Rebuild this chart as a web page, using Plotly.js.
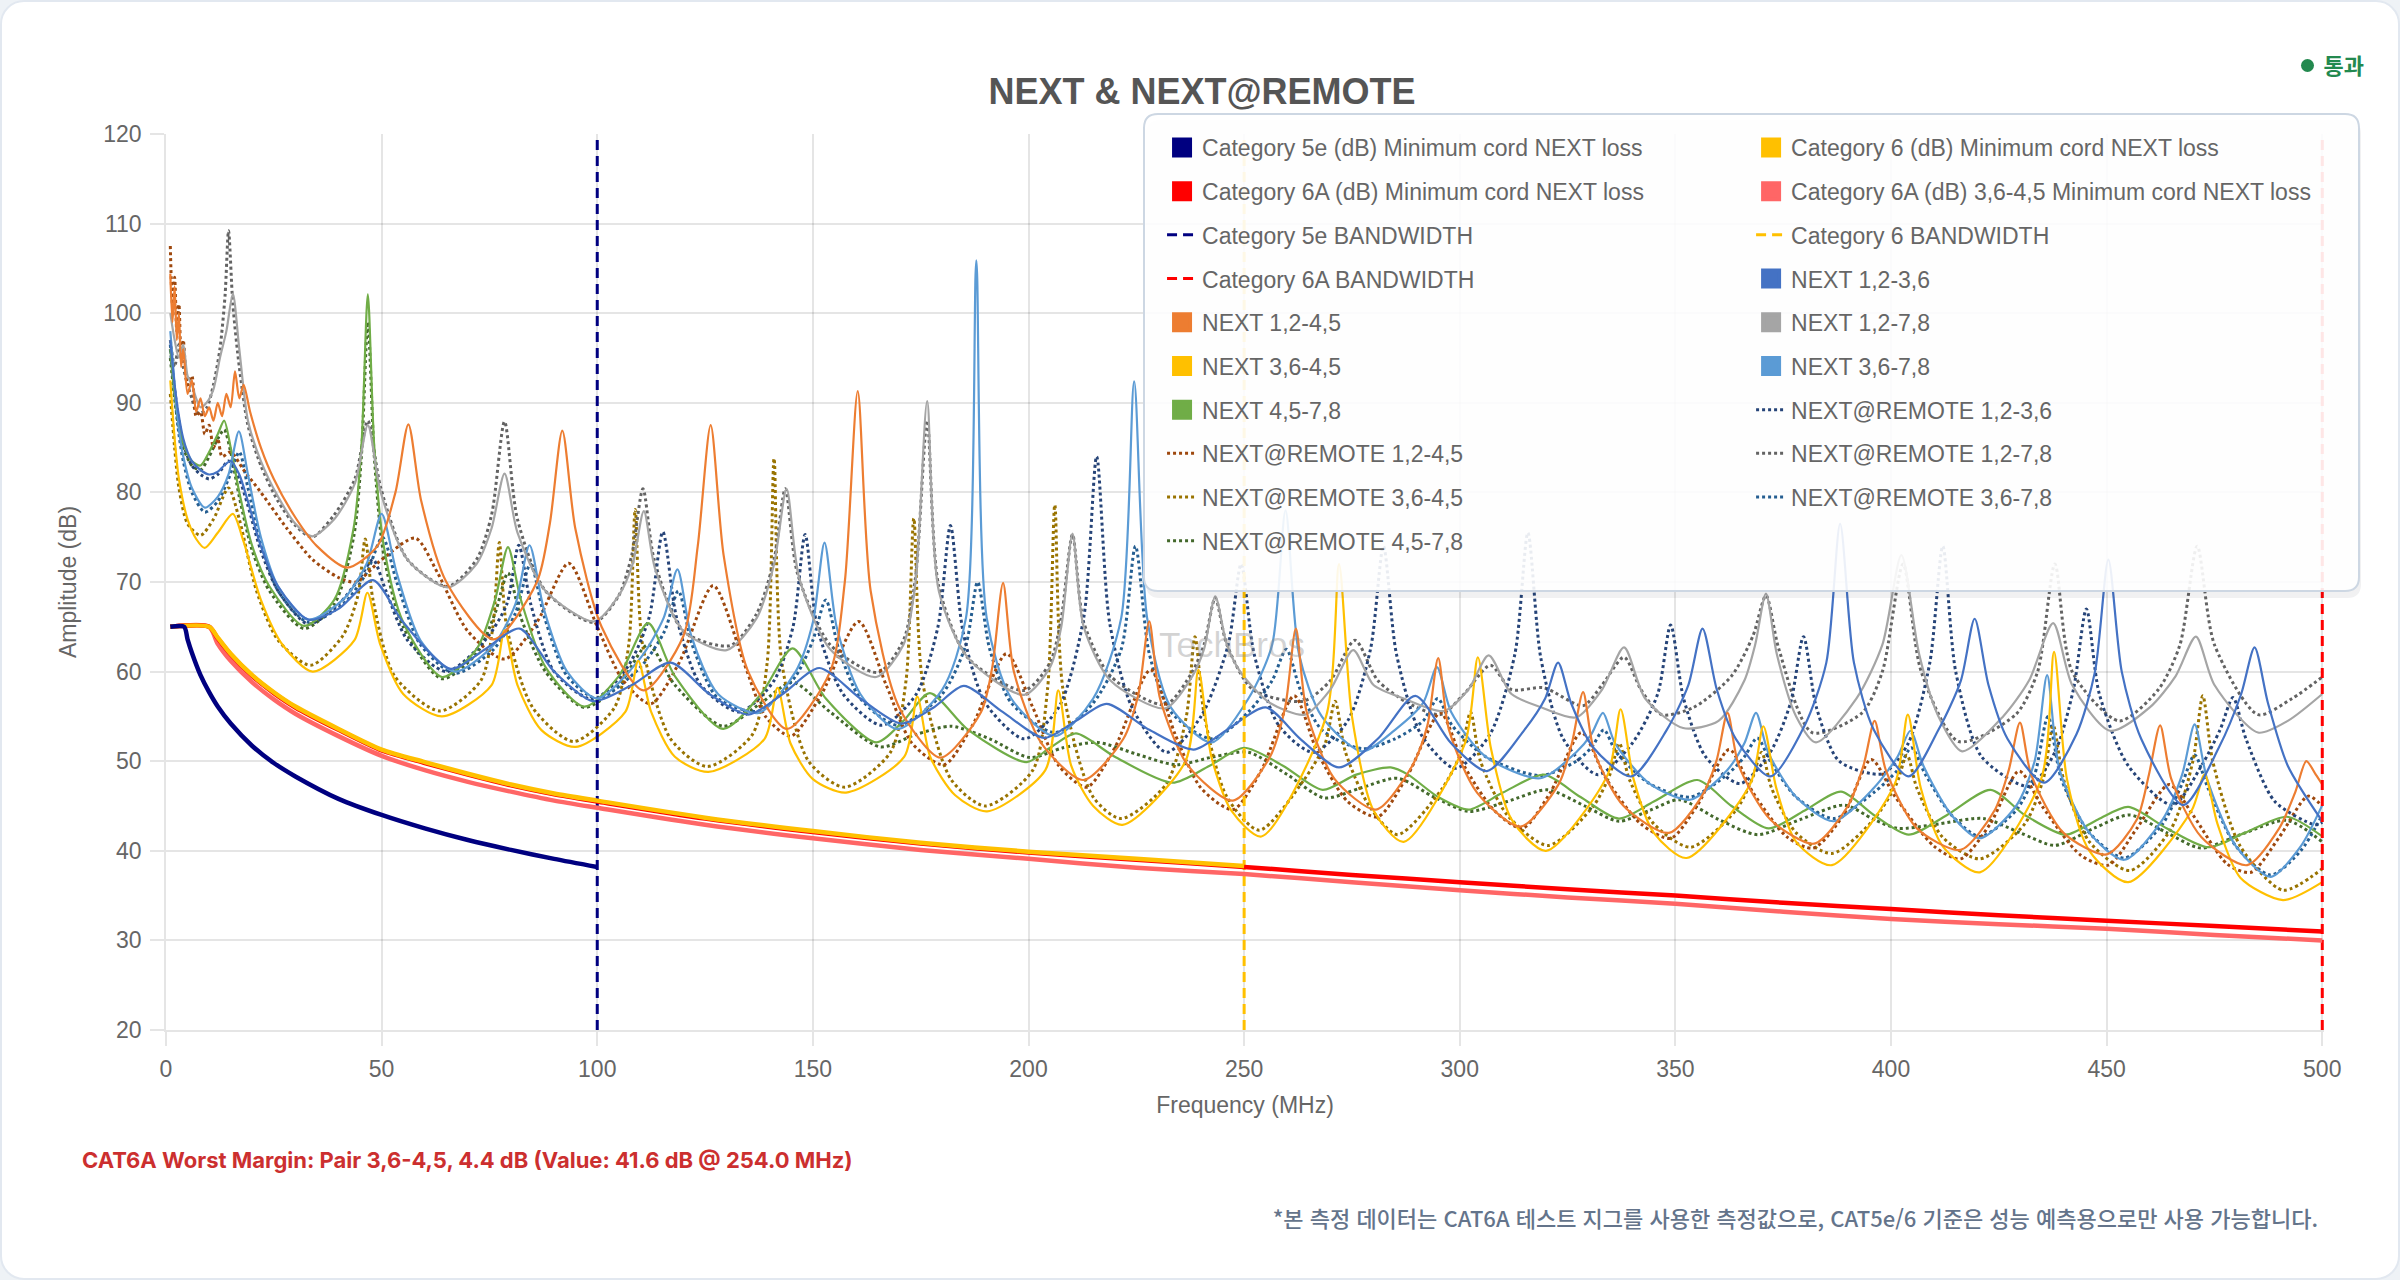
<!DOCTYPE html>
<html lang="ko">
<head>
<meta charset="utf-8">
<title>NEXT &amp; NEXT@REMOTE</title>
<script src="https://cdn.plot.ly/plotly-3.0.1.min.js"></script>
<style>
  html, body { margin: 0; padding: 0; background: #eef2f6; }
  .card {
    position: absolute; left: 0; top: 0; width: 2400px; height: 1280px;
    box-sizing: border-box; background: #fff;
    border: 2px solid #e2e8f0; border-radius: 24px; overflow: hidden;
  }
  #chart { position: absolute; left: 0; top: 0; width: 2400px; height: 1280px; }
  .status {
    position: absolute; right: 34px; top: 46px;
    font: 700 22px Inter, "Noto Sans CJK KR", sans-serif; color: #23894f;
  }
  .status .dot {
    display: inline-block; width: 13px; height: 13px; border-radius: 50%;
    background: #23894f; margin-right: 10px; vertical-align: 2px;
  }
  .margin-note {
    position: absolute; left: 80px; top: 1145px;
    font: 700 22px Inter, "Noto Sans CJK KR", sans-serif; color: #cc2f2f;
  }
  .footnote {
    position: absolute; right: 80px; top: 1199px;
    font: 500 22px "Noto Sans CJK KR", Inter, sans-serif; color: #64748b;
  }
</style>
</head>
<body>
<div class="card">
  <div id="chart"></div>
  <div class="status"><span class="dot"></span>통과</div>
  <div class="margin-note">CAT6A Worst Margin: Pair 3,6-4,5, 4.4 dB (Value: 41.6 dB @ 254.0 MHz)</div>
  <div class="footnote">*본 측정 데이터는 CAT6A 테스트 지그를 사용한 측정값으로, CAT5e/6 기준은 성능 예측용으로만 사용 가능합니다.</div>
</div>
<script>
/* ── Axis ranges / ticks ─────────────────────────────────── */
const FREQ_RANGE = [0, 500.4];
const AMP_RANGE  = [20, 120];
const BANDWIDTHS = [100, 250, 500];   // MHz : Cat5e, Cat6, Cat6A

/* ── Limit lines [MHz, dB] ───────────────────────────────── */
const cat5eLimit = [[1,65],[4.2,65],[5,63.6],[6,62.1],[8,59.6],[10,57.7],[12,56.1],[15,54.2],[20,51.7],[25,49.8],
  [30,48.3],[40,45.8],[50,44.0],[60,42.5],[70,41.2],[80,40.1],[90,39.1],[100,38.2]];
const cat6Limit = [[1,65],[10,65],[12,63.8],[15,62.0],[20,59.6],[25,57.7],[30,56.1],[40,53.6],[50,51.3],[60,49.9],
  [70,48.6],[80,47.4],[90,46.4],[100,45.6],[125,43.7],[150,42.2],[175,40.9],[200,39.9],[225,39.1],[250,38.3]];
const cat6aLimit = [[1,65],[10,65],[12,63.7],[15,61.9],[20,59.5],[25,57.6],[30,56.0],[40,53.5],[50,51.2],[60,49.8],
  [70,48.5],[80,47.3],[90,46.3],[100,45.5],[125,43.6],[150,42.1],[175,40.8],[200,39.8],[225,39.0],[250,38.2],
  [275,37.3],[300,36.5],[325,35.7],[350,35.0],[375,34.2],[400,33.5],[425,32.8],[450,32.2],[475,31.6],[500,31.0]];
const cat6a3645Limit = [[1,65],[10,65],[12,63.1],[15,61.2],[20,58.8],[25,56.9],[30,55.3],[40,52.8],[50,50.6],[60,49.0],
  [70,47.7],[80,46.6],[90,45.6],[100,44.8],[125,42.9],[150,41.4],[175,40.1],[200,39.1],[225,38.1],[250,37.4],
  [275,36.5],[300,35.6],[325,34.8],[350,34.1],[375,33.2],[400,32.4],[425,31.8],[450,31.3],[475,30.6],[500,30.0]];

/* ── Measured NEXT [MHz, dB] ─────────────────────────────── */
const next12_36 = [[1,97],[2,92],[3,88.5],[4,86],[5,84.5],[6,83.5],[8,82.5],[10,82],[12,82.3],[13.5,83],[15,83.5],
  [17,82],[19,79],[22,74],[26,69.5],[33,65.8],[40,67],[48,70.2],[55,65.5],[66,60.3],[74,62.5],[82,64.8],[90,60],
  [99,56.7],[108,58.5],[117,61],[126,57.5],[135,55.2],[143,57.5],[151.5,60.4],[161,57],[170.5,54.2],[178,56],
  [185,58.4],[194,55.5],[203.6,52.6],[211,54.5],[218.1,56.4],[228,53.5],[238.3,51.3],[246,53.5],[255,56],[263,52.5],
  [272,49.3],[281,52.5],[289.7,57.3],[298,52],[306.3,48.9],[315,53.5],[319.8,57],[322.8,61],[325.8,56.5],[331,51.5],
  [339.8,48.3],[348,53.5],[353,58.5],[356.3,64.8],[359.6,58],[364,52.5],[372,48.3],[380,54],[385,61],[388.2,76.5],
  [391.4,61],[396,53.5],[404.1,48.3],[411,53.5],[416.2,59],[419.4,65.9],[422.6,58.5],[427,52.5],[435.5,47.6],[443,53],
  [447.3,60],[450.4,72.5],[453.5,60],[458,52.5],[467.8,45.1],[476,51.5],[481.2,57.5],[484.3,62.7],[487.4,56.5],
  [492,49.5],[500,43.3]];
const next12_45 = [[1,104.4],[1.5,99],[2,103],[2.5,97],[3,100],[3.5,94],[4,96],[5,91],[6,92.5],[7,89],[8,90.5],
  [9,88.5],[10,89.5],[11,88],[12,90],[13,88.5],[14,91],[15,89.5],[16,93.5],[17,90.5],[18,92],[19.5,89],[22,85],
  [25,81.5],[30,77.2],[35,74],[42,71.6],[49,74],[53.2,80],[56.2,87.6],[59.2,79],[65,70],[76,63.6],[86,70],[89,76.5],
  [91.9,86.9],[94.9,76],[101,65],[110.7,57.9],[120,64],[123.3,74],[126.3,87.5],[129.3,73],[135,60],[144,53.6],
  [154,60],[157.4,70],[160.4,91.3],[163.4,69],[170,56],[179.6,50.4],[189,55.5],[191.6,60.5],[194.1,69.9],
  [196.6,60],[203,52],[212.7,47.9],[222,52.5],[225.5,57.5],[228,65.6],[230.5,57],[237,49.5],[247.4,45.6],[256,50.5],
  [259.5,56],[262,64.8],[264.5,55.5],[271,48],[280.6,44.6],[289,49.5],[292.5,54],[295,61.5],[297.5,53.5],[304,46.5],
  [314.1,42.7],[323,47.5],[326,52],[328.6,57.7],[331.2,51],[338,45],[348.5,42.0],[356,46],[359.5,50],[362.1,55.4],
  [364.7,49.5],[372,43.5],[382.2,40.8],[390,45],[393.6,49.5],[396.2,54.5],[398.8,49],[406,42.5],[416.1,40.1],
  [424,44.5],[427.3,49],[429.9,54.3],[432.5,48.5],[440,42],[450,39.6],[457,43.5],[459.8,48.5],[462.4,54],[465,48],
  [472,41.5],[482.6,38.4],[490,42.5],[493.7,46.5],[496.3,50],[498.5,48.5],[500,47.4]];
const next12_78 = [[1,100],[2,97],[3,95],[4,96.5],[5,93],[6,92],[7,90.5],[8,89.5],[9.4,90],[11,91.5],[12.5,95],
  [14,98],[15.5,102.2],[17,96],[19,88],[22,83.5],[26,79.5],[30,76.5],[33.9,75.1],[39,77],[43.8,81],[46.8,87.5],
  [49.8,80],[56,72.5],[65.3,69.4],[72,72],[75.5,76],[78.5,82.1],[81.5,75.5],[88,69],[99.3,65.6],[105,68.5],
  [108.2,72],[110.8,77.9],[113.4,71.5],[120,64.5],[130,62.4],[137,66],[141,72],[143.9,80.4],[146.8,70.5],[154,62.5],
  [164.7,59.4],[171,63],[173.8,70],[176.5,90.2],[179.2,69],[186,61.5],[199,57.4],[205,60.5],[207.6,65],[210.2,75.4],
  [212.8,65],[219,59],[231.7,55.9],[238,59.5],[240.7,62.5],[243.3,68.4],[246,63],[249.2,59.9],[256,56.5],
  [264.1,55.2],[270,58],[275.3,62.4],[280,58.5],[287,57],[296.3,55.6],[302,58],[306.7,61.8],[312,57.5],[319,56],
  [327,54.9],[333,58],[338.1,62.7],[343,57],[351.8,53.7],[360,54.5],[366,59],[368.5,63],[371,68.7],[373.5,62],
  [378,55],[382.6,52.1],[392,57],[398,63],[402.4,73],[406.5,62],[411,55],[416.5,51.1],[426,55],[432,59],[437.6,65.4],
  [442,58.5],[450.8,53.4],[460,56],[466,59.5],[470.7,63.9],[475,58.5],[485.1,53.2],[492,54.5],[500,57.5]];
const next36_45 = [[1,92.5],[2,86],[3,81.5],[5,77],[7,74.8],[9,73.8],[12,75.5],[15.5,77.6],[18,74.5],[22,68],
  [27,63],[34,60.0],[43.7,63.5],[46.7,68.8],[49.7,63],[55,57.5],[64,55.0],[75.5,58.5],[78.5,64.6],[81.5,58.5],
  [87,53.5],[95,51.6],[106.5,55.5],[109.5,61.2],[112.5,55.5],[118,50.5],[125.8,48.8],[138.8,52.5],[141.8,58.2],
  [144.8,52],[150,48],[157.7,46.5],[171.2,50.5],[174.2,57.2],[177.2,50.5],[183,46.2],[190.4,44.4],[203.9,49],
  [206.9,57.9],[209.9,49.5],[215,45],[221.8,42.9],[236.4,50],[239.4,60.2],[242.4,50.5],[247,44.5],[254,41.6],
  [269,55],[272,72],[275,55],[280,44.5],[287,41.0],[301.2,52],[304.2,61.6],[307.2,51.5],[312,43.5],[320,40.0],
  [334.3,48.5],[337.3,55.8],[340.3,48],[345,42],[352.6,39.2],[367.4,47.5],[370.4,53.9],[373.4,47],[378,41],
  [386.3,38.4],[400.9,47.5],[403.9,55.2],[406.9,47],[412,40.5],[420.6,37.6],[434.8,48],[437.8,62.2],[440.8,48],
  [446,40],[455,36.5],[469.7,44.5],[472.7,48.5],[475.7,43],[481,37],[490.9,34.5],[500,36.5]];
const next36_78 = [[1,98],[2,92],[3,87],[4,84],[6,80.5],[9,78.3],[12,79.5],[14.5,82],[16.9,86.8],[19,82],[22,75],
  [26,69.5],[33,65.8],[41,68],[46.5,72],[50,77.6],[53.5,71],[59,63.5],[67,60],[76,63],[81,67.5],[84.3,74.1],
  [87.6,67],[93,60],[100,57],[110,61.5],[115.4,66],[118.6,71.4],[121.8,64],[128,57.5],[137.4,55.4],[146,60],
  [150,65.5],[152.7,74.4],[155.5,65],[161,57.5],[169.7,53.6],[180,58],[185.5,66],[187.9,105.9],[190.3,66],[196,57],
  [206.1,52.8],[215,57],[221.5,66],[224.5,92.4],[227.5,66],[233,56],[242.5,52.1],[251,57],[256.5,63],[259.6,78],
  [262.7,62],[268,55],[277.3,51.1],[285,53.5],[291.5,56.5],[294.7,60.5],[298,55.5],[306,50.5],[318.7,48.1],[327,51],
  [330.5,53],[333.2,55.4],[336,52],[344,47.5],[353.4,45.7],[362,49],[366,52],[368.7,55.4],[371.5,51],[378,46],
  [386.7,43.3],[396,47],[401.5,50.5],[404.5,53.4],[407.5,49.5],[414,44],[420.6,41.4],[429,45],[433.3,50],
  [436.2,59.6],[439.1,49],[446,42],[454.1,39],[463,43.5],[467.5,48.5],[470.4,54.1],[473.3,48],[480,40.5],[488,37.1],
  [495,40.5],[500,45.1]];
const next45_78 = [[1,96],[2,91],[3,87.5],[4,85.5],[6,83.5],[8,83],[10,84.5],[12,86.5],[13.5,88],[15,85],[17,80],
  [20,74],[24,69.5],[32,65.1],[39,68],[43.5,76],[45.3,85],[46.8,102.1],[48.3,85],[50.5,74],[55,65.5],[64,59.4],
  [72,62.5],[76.3,68],[79.3,73.9],[82.3,68],[88,60.5],[97,56.1],[105,59.5],[111.8,65.4],[118,59.5],[129.2,53.6],
  [138,57.5],[145.3,62.6],[153,57],[164.7,52.1],[171,54.5],[177.1,57.6],[186,53.5],[199.5,49.9],[205,51.5],[211,53.1],
  [220,50.5],[233.4,47.6],[242,49.5],[250,51.5],[259,49.5],[268.2,46.8],[276,48.5],[284,49.3],[288,48.5],[295,46],
  [302.1,44.6],[310,46.5],[319.5,48.5],[328,46],[336.9,43.6],[345,45.5],[355.1,47.9],[363,45],[371.6,42.5],[380,44.5],
  [388.4,46.6],[396,44],[404.1,41.8],[413,44],[423.1,46.8],[431,44],[440.5,41.8],[448,43.5],[455,44.9],[464,42.5],
  [473.6,40.4],[482,42],[491.8,43.8],[500,41.6]];

/* ── Measured NEXT@REMOTE [MHz, dB] ──────────────────────── */
const remote12_36 = [[1,96],[2,91.5],[3,88],[4,85.5],[5,84],[6,83],[8,82],[10,81.5],[12,82],[14.5,83.5],[17,81.5],
  [19,78.5],[22,73.5],[26,69],[33,65.3],[40,67.5],[45,70.5],[48,72.5],[51,69],[56,63.5],[65,60],[74,63.5],[79,67.5],
  [81.8,74.1],[84.6,67.5],[90,60],[99,56.9],[107,60.5],[112,66],[115.2,75.6],[118.4,66],[124,58.5],[133,55.5],
  [141,59],[145.4,65],[148.2,75.3],[151,65],[157,57.5],[166,54],[174,57.5],[179,65],[181.9,76.3],[184.8,64.5],
  [190,56.5],[199,52.5],[207,56],[212.8,66],[215.8,84],[218.8,65.5],[224,56],[232,51],[240,55],[246.3,63],[249.3,72],
  [252.3,62],[258,54],[266,51],[274,54.5],[279.3,62.5],[282.3,74],[285.3,62],[291,53],[299,49.2],[307,53],[312.8,62],
  [315.8,75.5],[318.8,61.5],[324,52.5],[332,48.5],[340,52],[345.9,57.5],[348.9,65.2],[351.9,57],[357,50.5],[365,47.5],
  [372,51],[376.7,56.5],[379.7,63.9],[382.7,56],[388,50],[398,48.6],[404,52],[409,61],[412,74],[415,60],[421,50.5],
  [432,47.2],[438,51],[442.3,58],[445.3,67],[448.3,57.5],[455,49.5],[465.3,45.1],[472,49.5],[476.3,53.5],[479.3,57.1],
  [482.3,52.5],[489,45.5],[498.4,42.9],[500,43.2]];
const remote12_45 = [[1,107.5],[1.5,101],[2,104],[2.5,98],[3,101],[3.5,95],[4,97],[5,92],[6,93],[7,88.5],[8,89],
  [9,86.5],[10,87.5],[11,85],[12,86],[13,84],[15,84.5],[18,82.5],[22,80],[28,76],[34,72.5],[40,70.5],[44,70],
  [50,72.5],[57.8,74.9],[63,71],[70,64.5],[78.5,61.4],[86,65.5],[93.4,72.1],[100,65],[106,59],[112.4,56.4],[119,61],
  [126.9,69.6],[134,61],[139,55],[144.9,52.8],[152,57.5],[160.6,65.6],[167,58.5],[173,52],[180.4,49.6],[187,54],
  [194.9,62],[201,56],[207,49.5],[213.5,47.1],[220,51.5],[228.3,60.2],[234,53],[240,47],[247.4,44.6],[254,49],
  [261.6,57.3],[267,51],[274,45.5],[281,43.8],[288,48.5],[295.5,55.4],[301,49.5],[308,44.5],[314.5,42.5],[321,46.5],
  [328.2,53.2],[334,48],[342,43],[348.9,41.4],[355,45],[362.5,51.3],[368,46.5],[376,41.5],[382,40.3],[389,44],
  [395.4,50.2],[401,46],[410,40.5],[416.1,39.1],[423,43],[429.7,48.9],[435,45],[444,39.5],[450.4,38.4],[457,42.5],
  [464.5,47.4],[470,44],[478,38.5],[483.5,37.6],[490,41.5],[496.7,46.1],[500,45]];
const remote12_78 = [[1,97],[2,94],[3,96.5],[4,94],[5,92],[6,90.5],[7,89],[8,88.8],[9.5,89.5],[11,92],[12.5,96],
  [13.7,102],[14.5,109.2],[15.5,101],[17,94],[19,87.5],[22,83],[26,79],[30,76.3],[33.9,75.0],[39,77.5],[43.8,81.5],
  [46.8,88],[49.8,80.5],[56,72.5],[65.3,69.5],[72,72.5],[75.5,77.5],[78.5,87.9],[81.5,77],[88,69],[99.3,65.5],
  [105,68.5],[108,73],[110.6,80.4],[113.2,72.5],[120,64.5],[130.8,62.9],[137,66.5],[141,72.5],[143.6,80.4],
  [146.4,71],[154,63],[165.1,59.9],[171,63.5],[173.8,70.5],[176.5,88],[179.2,69.5],[186,61.5],[199,57.9],[205,61],
  [207.6,66],[210.2,75.3],[212.8,65.5],[219,59.5],[231.7,56.3],[238,60],[240.7,63],[243.3,68.2],[246,63],[252,58],
  [263.7,56.7],[270,59],[275.7,63.5],[281,59],[288,56.5],[295.5,55.2],[301,57.5],[307.1,60.7],[312,58],[319.5,58.2],
  [328.6,56.2],[333,58.5],[338.1,61.6],[342,58],[346.8,55.2],[354.2,56],[363,59.5],[368,64],[371,68.5],[374,62.5],
  [381.7,53.2],[393.3,55.4],[398,60],[402.8,72],[407,60],[415.7,52.2],[428.9,55.2],[434,60],[438,72],[442,60],
  [452.9,54.5],[462,58],[467,63],[471,74],[475,63],[485.1,55.2],[493,57],[500,59.4]];
const remote36_45 = [[1,91],[2,85],[3,80.5],[5,76.5],[8,75.2],[11,77],[14.5,80.5],[17,77],[21,69],[26,63.5],
  [33.5,60.7],[41,64],[44.5,68.5],[46.2,74.8],[48,68],[53,59.5],[63.5,55.6],[73,59],[75.8,65],[77.3,74.4],[79,65],
  [85,56],[94.5,52.2],[104,56],[107.3,63],[108.8,78.1],[110.5,63],[117,52.5],[125.5,49.4],[136,53],[139.4,61],
  [141,83.8],[142.8,61],[149,50],[157.4,47.1],[168,51],[171.6,59],[173.4,77.1],[175.4,59],[182,48],[190,45],[201,49],
  [204.4,58],[206.1,78.6],[208,58],[215,46],[221.5,43.6],[232,47.5],[236.6,55],[238.6,63.9],[240.8,55],[246,46],
  [253.5,42.3],[264,48],[268.8,52],[271.1,56.7],[273.5,51],[279,45],[285.6,41.8],[296,47],[300.3,51],[302.5,55.5],
  [304.8,50],[311,44],[320.5,40.6],[331,45],[334.8,48.5],[337,52],[339.3,48],[345,43],[353.5,40.4],[364,44.5],
  [367.8,48],[370,51],[372.3,47],[378,42],[386.3,39.7],[396,43.5],[401.3,47.5],[403.7,50.7],[406,47],[412,41.5],
  [420.6,39.1],[431,43],[435.3,48],[437.6,54],[440,48],[446,41],[455.4,37.8],[465,42.5],[470,50],[472.3,57.3],
  [474.6,50],[481,40.5],[490.9,35.6],[500,38]];
const remote36_78 = [[1,96.5],[2,91],[3,86.5],[4,83.5],[6,80],[9,77.8],[12,79],[14.5,81.5],[17,84.5],[19,80.5],
  [22,74.5],[26,69],[33,65.5],[41,67.5],[46.5,71],[50.2,75],[53.5,70],[59,63],[67,59.8],[76,62.5],[81,66.5],
  [84.5,72],[87.8,66],[93,59.5],[100,57],[110,60.5],[115.6,64.5],[118.8,69],[122,63],[128,57],[137.4,55.6],
  [146,59.5],[150,63.5],[153,68],[156,62.5],[161,57],[169.7,54],[180,57.5],[185.5,63],[188.2,70],[191,62.5],
  [196,56.5],[206.1,53.2],[215,56.5],[221.5,62.5],[224.8,74],[228,62],[233,55.5],[242.5,52.5],[251,55.5],[256.5,59],
  [259.8,62.5],[263,58],[268,53.5],[277.3,51.4],[285,52.5],[291.5,54.5],[294.9,57],[298.2,54],[306,50.5],
  [318.7,48.4],[327,50],[330.5,51.5],[333.4,53.5],[336.3,51],[344,47.5],[353.4,46],[362,48.5],[366,50.5],[369,52.6],
  [372,50],[378,46],[386.7,43.6],[396,46.5],[401.5,49],[404.7,51.5],[408,48.5],[414,44],[420.6,41.6],[429,44.5],
  [433.3,48.5],[436.4,55],[439.5,48],[446,42],[454.1,39.2],[463,43],[467.5,47.5],[470.4,50.7],[473.5,47],[480,40.5],
  [488,37.3],[495,40],[500,44]];
const remote45_78 = [[1,95],[2,90.5],[3,87],[4,85],[6,83],[8,82.5],[10,84],[12,86],[13.5,87],[15,84.5],[17,79.5],
  [20,73.5],[24,69],[32,64.8],[39,67.5],[43.5,75],[45.3,84],[46.8,99],[48.3,84],[50.5,73],[55,65],[64,59.2],[72,62],
  [76.3,66.5],[79.3,71],[82.3,66],[88,60],[97,56],[105,58.5],[111.8,63],[118,58.5],[129.2,53.9],[138,56.5],
  [145.3,58.8],[154,55.5],[165.6,51.6],[174,53],[182.1,53.9],[191,52.5],[200.3,50.4],[208,51.5],[216,52.1],
  [225,50.8],[234.2,49.6],[243,50.5],[251,51],[260,48.5],[268.6,45.9],[277,47],[285.6,48.1],[294,46],[302.1,44.4],
  [311,45.5],[320.3,46.8],[329,45],[336.9,43.3],[344,44.5],[350.9,45.7],[360,43.5],[369.1,41.8],[379,43.5],
  [389.2,45.1],[396,43.5],[401.6,42.5],[411,43],[421.4,43.6],[430,42],[438,40.6],[447,42.5],[455.4,44],[464,42],
  [471.9,40.3],[481,41.8],[491.8,43.4],[500,41]];

/* ── Series styling (legend order) ───────────────────────── */
const FONT = '"Liberation Sans", Arial, Helvetica, sans-serif';
const BW_DASH = '10px,6px';
const DOT = '3px,3px';
const SERIES = [
  { name: 'Category 5e (dB) Minimum cord NEXT loss',          data: cat5eLimit,     color: '#000080', width: 4.5, box: true },
  { name: 'Category 6 (dB) Minimum cord NEXT loss',           data: cat6Limit,      color: '#FFC000', width: 4.5, box: true },
  { name: 'Category 6A (dB) Minimum cord NEXT loss',          data: cat6aLimit,     color: '#FF0000', width: 4.5, box: true },
  { name: 'Category 6A (dB) 3,6-4,5 Minimum cord NEXT loss',  data: cat6a3645Limit, color: '#FF6666', width: 4.5, box: true },
  { name: 'Category 5e BANDWIDTH', bw: BANDWIDTHS[0], color: '#000080', width: 3, dash: BW_DASH },
  { name: 'Category 6 BANDWIDTH',  bw: BANDWIDTHS[1], color: '#FFC000', width: 3, dash: BW_DASH },
  { name: 'Category 6A BANDWIDTH', bw: BANDWIDTHS[2], color: '#FF0000', width: 3, dash: BW_DASH },
  { name: 'NEXT 1,2-3,6', data: next12_36, color: '#4472C4', width: 2.2, box: true },
  { name: 'NEXT 1,2-4,5', data: next12_45, color: '#ED7D31', width: 2.2, box: true },
  { name: 'NEXT 1,2-7,8', data: next12_78, color: '#A5A5A5', width: 2.2, box: true },
  { name: 'NEXT 3,6-4,5', data: next36_45, color: '#FFC000', width: 2.2, box: true },
  { name: 'NEXT 3,6-7,8', data: next36_78, color: '#5B9BD5', width: 2.2, box: true },
  { name: 'NEXT 4,5-7,8', data: next45_78, color: '#70AD47', width: 2.2, box: true },
  { name: 'NEXT@REMOTE 1,2-3,6', data: remote12_36, color: '#264478', width: 3, dash: DOT },
  { name: 'NEXT@REMOTE 1,2-4,5', data: remote12_45, color: '#9E480E', width: 3, dash: DOT },
  { name: 'NEXT@REMOTE 1,2-7,8', data: remote12_78, color: '#636363', width: 3, dash: DOT },
  { name: 'NEXT@REMOTE 3,6-4,5', data: remote36_45, color: '#997300', width: 3, dash: DOT },
  { name: 'NEXT@REMOTE 3,6-7,8', data: remote36_78, color: '#255E91', width: 3, dash: DOT },
  { name: 'NEXT@REMOTE 4,5-7,8', data: remote45_78, color: '#43682B', width: 3, dash: DOT }
];

/* legend-only entry: square box for solid series, short line for dashed ones */
function legendEntry(s, i) {
  const t = { type: 'scatter', x: [null], y: [null], name: s.name, legendgroup: 'g' + i,
              showlegend: true, hoverinfo: 'skip' };
  if (s.box) {
    t.mode = 'markers';
    t.marker = { symbol: 'square', size: 16, color: s.color, line: { width: 4, color: s.color } };
  } else {
    t.mode = 'lines';
    t.line = { color: s.color, width: s.width, dash: s.dash };
  }
  return t;
}

function drawTrace(s, i) {
  const t = { type: 'scatter', mode: 'lines', name: s.name, legendgroup: 'g' + i, showlegend: false };
  if (s.bw !== undefined) {
    t.x = [s.bw, s.bw];
    t.y = AMP_RANGE.slice();
    t.line = { color: s.color, width: s.width, dash: s.dash };
    t.hovertemplate = s.name + ': %{x} MHz<extra></extra>';
  } else {
    t.x = s.data.map(p => p[0]);
    t.y = s.data.map(p => p[1]);
    t.line = { color: s.color, width: s.width, dash: s.dash || 'solid', shape: 'spline', smoothing: 0.75 };
    t.hovertemplate = s.name + '<br>%{x:.1f} MHz: %{y:.1f} dB<extra></extra>';
  }
  return t;
}

// chart.js draws the first dataset on top, so paint in reverse order
const traces = SERIES.map(legendEntry)
  .concat(SERIES.map((s, i) => [s, i]).reverse().map(([s, i]) => drawTrace(s, i)));

/* legend panel drawn as a rounded paper-space box behind the legend */
const M = { l: 164, r: 78, t: 132, b: 252 };
const PW = 2400 - M.l - M.r, PH = 1280 - M.t - M.b;
const px = v => (v - M.l) / PW;
const py = v => 1 - (v - M.t) / PH;
function roundBox(x0, y0, x1, y1, r) {
  const X = px, Y = py;
  return `M ${X(x0 + r)},${Y(y0)} L ${X(x1 - r)},${Y(y0)} Q ${X(x1)},${Y(y0)} ${X(x1)},${Y(y0 + r)} ` +
         `L ${X(x1)},${Y(y1 - r)} Q ${X(x1)},${Y(y1)} ${X(x1 - r)},${Y(y1)} ` +
         `L ${X(x0 + r)},${Y(y1)} Q ${X(x0)},${Y(y1)} ${X(x0)},${Y(y1 - r)} ` +
         `L ${X(x0)},${Y(y0 + r)} Q ${X(x0)},${Y(y0)} ${X(x0 + r)},${Y(y0)} Z`;
}
const LEGEND_BOX = [1142, 112, 2357, 589];

const gridColor = 'rgba(0,0,0,0.1)';
const axisBase = {
  gridcolor: gridColor, gridwidth: 1.5, zeroline: false,
  showline: true, linecolor: gridColor, linewidth: 1.5,
  ticks: 'outside', ticklen: 14, tickwidth: 1.5, tickcolor: gridColor, ticklabelstandoff: 4,
  tickfont: { family: FONT, size: 23, color: '#666' }
};

const layout = {
  width: 2400, height: 1280,
  paper_bgcolor: 'rgba(0,0,0,0)', plot_bgcolor: 'rgba(0,0,0,0)',
  font: { family: FONT, size: 23, color: '#666' },
  margin: { l: M.l, r: M.r, t: M.t, b: M.b, autoexpand: false },
  title: {
    text: '<b>NEXT & NEXT@REMOTE</b>', font: { family: FONT, size: 36, color: '#555' },
    x: 0.5, xref: 'container', xanchor: 'center',
    y: 1 - 89 / 1280, yref: 'container', yanchor: 'middle'
  },
  xaxis: Object.assign({}, axisBase, {
    range: FREQ_RANGE, tick0: 0, dtick: 50,
    title: { text: 'Frequency (MHz)', font: { family: FONT, size: 23, color: '#666' }, standoff: 16 }
  }),
  yaxis: Object.assign({}, axisBase, {
    range: AMP_RANGE, tick0: 20, dtick: 10,
    title: { text: 'Amplitude (dB)', font: { family: FONT, size: 23, color: '#666' }, standoff: 20 }
  }),
  showlegend: true,
  legend: {
    orientation: 'h', traceorder: 'grouped', tracegroupgap: 10.8,
    entrywidthmode: 'fraction', entrywidth: 0.4867,
    xref: 'paper', x: 1.0079, xanchor: 'right',
    yref: 'container', y: 1 - 124 / 1280, yanchor: 'top',
    bgcolor: 'rgba(0,0,0,0)', borderwidth: 0,
    font: { family: FONT, size: 23, color: '#666' }
  },
  shapes: [
    { type: 'path', xref: 'paper', yref: 'paper', layer: 'above',
      path: roundBox(LEGEND_BOX[0] + 2, LEGEND_BOX[1] + 6, LEGEND_BOX[2] + 2, LEGEND_BOX[3] + 7, 14),
      fillcolor: 'rgba(15,23,42,0.06)', line: { width: 0 } },
    { type: 'path', xref: 'paper', yref: 'paper', layer: 'above',
      path: roundBox(LEGEND_BOX[0], LEGEND_BOX[1], LEGEND_BOX[2], LEGEND_BOX[3], 14),
      fillcolor: 'rgba(255,255,255,0.9)', line: { color: '#cdd7e3', width: 2 } }
  ],
  annotations: [{
    xref: 'paper', yref: 'paper', x: 0.494, y: 0.43, showarrow: false,
    text: 'TechBros', font: { family: FONT, size: 35, color: 'rgba(140,140,140,0.38)' }
  }],
  hoverlabel: { font: { family: FONT, size: 18 } }
};

Plotly.newPlot('chart', traces, layout, { displayModeBar: false, responsive: false });
</script>
</body>
</html>
